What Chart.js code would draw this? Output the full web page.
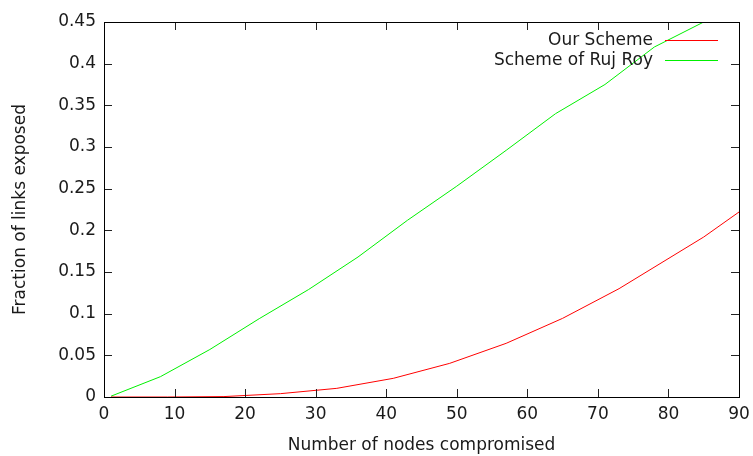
<!DOCTYPE html>
<html>
<head>
<meta charset="utf-8">
<script src="https://cdn.jsdelivr.net/npm/chart.js@4.4.0/dist/chart.umd.min.js"></script>
<style>
  html, body { margin: 0; padding: 0; background: #fff; }
</style>
</head>
<body>
<canvas id="linksChart" width="753" height="456"></canvas>
<script>
// values
const ourNodes = [1, 9, 17, 25, 33, 41, 49, 57, 65, 73, 85, 90];
const ourFraction = [0, 0, 0.0005, 0.004, 0.0104, 0.0224, 0.0404, 0.0644, 0.0944, 0.130, 0.192, 0.222];
const rujNodes = [1, 8, 15, 22, 29, 36, 43, 50, 57, 64, 71, 78, 85];
const rujFraction = [0.001, 0.0244, 0.057, 0.094, 0.129, 0.168, 0.212, 0.253, 0.296, 0.340, 0.375, 0.420, 0.450];
const xTicks = [0, 10, 20, 30, 40, 50, 60, 70, 80, 90];
const yTicks = [0, 0.05, 0.1, 0.15, 0.2, 0.25, 0.3, 0.35, 0.4, 0.45];
const yTickLabels = ['0', '0.05', '0.1', '0.15', '0.2', '0.25', '0.3', '0.35', '0.4', '0.45'];
const seriesColors = ['#ff0000', '#00f000'];

const FONT = 'DejaVu Sans';
const TEXT = '#1a1a1a';
const SIZE = 17;

const toPoints = (xs, ys) => xs.map((v, i) => ({ x: v, y: ys[i] }));

// gnuplot style: closed frame with ticks pointing inwards on all four sides
const frameTicks = {
    id: 'frameTicks',
    afterDatasetsDraw(chart) {
        const { ctx, chartArea: a, scales } = chart;
        const x = scales.x, y = scales.y;
        const len = 8;
        ctx.save();
        ctx.strokeStyle = '#222';
        ctx.lineWidth = 1;
        ctx.beginPath();
        x.ticks.forEach((t) => {
            const px = Math.round(x.getPixelForValue(t.value)) + 0.5;
            ctx.moveTo(px, a.bottom); ctx.lineTo(px, a.bottom - len);
            ctx.moveTo(px, a.top); ctx.lineTo(px, a.top + len);
        });
        y.ticks.forEach((t) => {
            const py = Math.round(y.getPixelForValue(t.value)) + 0.5;
            ctx.moveTo(a.left, py); ctx.lineTo(a.left + len, py);
            ctx.moveTo(a.right, py); ctx.lineTo(a.right - len, py);
        });
        ctx.stroke();
        ctx.strokeStyle = '#000';
        ctx.strokeRect(Math.round(a.left) + 0.5, Math.round(a.top) + 0.5,
            Math.round(a.right - a.left), Math.round(a.bottom - a.top));
        ctx.restore();
    }
};

// key in the top right corner: right-aligned text followed by a line sample
const gnuKey = {
    id: 'gnuKey',
    afterDraw(chart) {
        const { ctx, chartArea: a } = chart;
        ctx.save();
        ctx.font = SIZE + 'px "' + FONT + '"';
        ctx.textAlign = 'right';
        ctx.textBaseline = 'middle';
        chart.data.datasets.forEach((ds, i) => {
            const rowY = a.top + 19 + i * 20;
            const lineY = Math.round(a.top) + 18.5 + i * 20;
            ctx.fillStyle = TEXT;
            ctx.fillText(ds.label, a.right - 86, rowY);
            ctx.strokeStyle = seriesColors[i];
            ctx.lineWidth = 1;
            ctx.beginPath();
            ctx.moveTo(a.right - 74, lineY);
            ctx.lineTo(a.right - 21, lineY);
            ctx.stroke();
        });
        ctx.restore();
    }
};

new Chart(document.getElementById('linksChart').getContext('2d'), {
    type: 'line',
    data: {
        datasets: [
            {
                label: 'Our Scheme',
                data: toPoints(ourNodes, ourFraction),
                borderColor: seriesColors[0],
                borderWidth: 1,
                pointRadius: 0,
                tension: 0,
                fill: false,
            },
            {
                label: 'Scheme of Ruj Roy',
                data: toPoints(rujNodes, rujFraction),
                borderColor: seriesColors[1],
                borderWidth: 1,
                pointRadius: 0,
                tension: 0,
                fill: false,
            },
        ],
    },
    options: {
        responsive: false,
        animation: false,
        devicePixelRatio: 1,
        layout: { padding: { top: 22, right: 14, left: 0, bottom: 0 } },
        plugins: {
            legend: { display: false },
            tooltip: { enabled: false },
        },
        scales: {
            x: {
                type: 'linear',
                min: 0,
                max: 90,
                afterBuildTicks: (s) => { s.ticks = xTicks.map((v) => ({ value: v })); },
                afterFit: (s) => { s.height = 59; s.paddingLeft = 0; s.paddingRight = 0; },
                grid: { display: false, drawTicks: false },
                border: { display: false },
                ticks: {
                    color: TEXT,
                    font: { family: FONT, size: SIZE },
                    padding: 7,
                    maxRotation: 0,
                },
                title: {
                    display: true,
                    text: 'Number of nodes compromised',
                    color: TEXT,
                    font: { family: FONT, size: SIZE },
                    padding: { top: 5, bottom: 0 },
                },
            },
            y: {
                type: 'linear',
                min: 0,
                max: 0.45,
                afterBuildTicks: (s) => { s.ticks = yTicks.map((v) => ({ value: v })); },
                afterFit: (s) => { s.width = 104; s.paddingTop = 0; s.paddingBottom = 0; },
                grid: { display: false, drawTicks: false },
                border: { display: false },
                ticks: {
                    color: TEXT,
                    font: { family: FONT, size: SIZE },
                    padding: 8,
                    callback: (v, i) => yTickLabels[i],
                },
                title: {
                    display: true,
                    text: 'Fraction of links exposed',
                    color: TEXT,
                    font: { family: FONT, size: SIZE },
                    padding: { top: 10, bottom: 0 },
                },
            },
        },
    },
    plugins: [frameTicks, gnuKey],
});
</script>
</body>
</html>
